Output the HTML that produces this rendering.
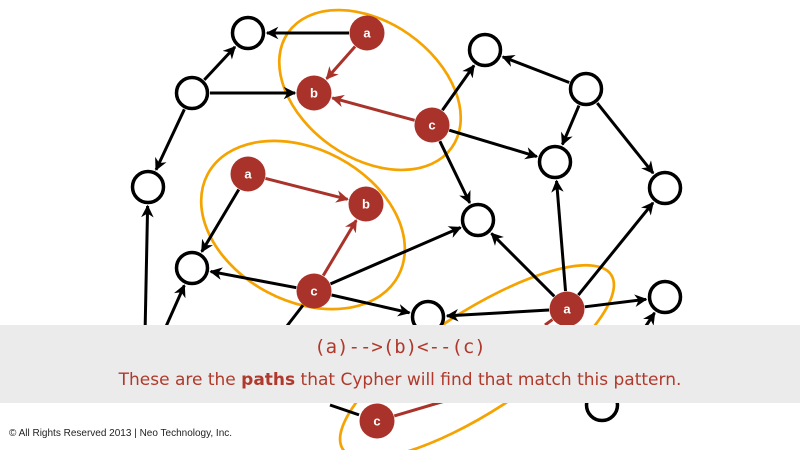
<!DOCTYPE html>
<html><head><meta charset="utf-8"><style>
html,body{margin:0;padding:0;background:#fff;}
body{width:800px;height:450px;overflow:hidden;position:relative;font-family:"Liberation Sans",sans-serif;}
svg{position:absolute;left:0;top:0;}
.bar{position:absolute;left:0;top:325px;width:800px;height:78px;background:#ebebeb;}
.l1{position:absolute;left:0;width:800px;top:335px;line-height:24px;text-align:center;color:#b0392b;font-family:"DejaVu Sans Mono","Liberation Mono",monospace;font-size:19px;}
.l2{position:absolute;left:0;width:800px;top:369px;line-height:22px;text-align:center;color:#b0392b;font-family:"DejaVu Sans","Liberation Sans",sans-serif;font-size:17px;}
.foot{position:absolute;left:9px;top:427px;line-height:14px;font-size:10px;color:#222;}
</style></head><body>
<svg id="g" width="800" height="450" viewBox="0 0 800 450" xmlns="http://www.w3.org/2000/svg">
<defs>
<marker id="ab" viewBox="0 0 10 10" refX="9" refY="5" markerWidth="4.2" markerHeight="4.2" orient="auto" markerUnits="strokeWidth"><path d="M0,0 L10,5 L0,10 L3,5 z" fill="#000"/></marker>
<marker id="ar" viewBox="0 0 10 10" refX="9" refY="5" markerWidth="4.2" markerHeight="4.2" orient="auto" markerUnits="strokeWidth"><path d="M0,0 L10,5 L0,10 L3,5 z" fill="#a9332a"/></marker>
</defs>
<g id="ell" fill="none" stroke="#f5a300" stroke-width="2.7">
<ellipse cx="370" cy="90" rx="100" ry="68" transform="rotate(35 370 90)"/>
<ellipse cx="303" cy="225" rx="108" ry="76" transform="rotate(28 303 225)"/>
<ellipse cx="477" cy="362" rx="160" ry="50" transform="rotate(-33 477 362)"/>
</g>
<g id="edges"></g>
<g id="nodes"></g>
</svg>
<div class="bar"></div>
<div class="l1">(a)--&gt;(b)&lt;--(c)</div>
<div class="l2">These are the <b>paths</b> that Cypher will find that match this pattern.</div>
<div class="foot">© All Rights Reserved 2013 | Neo Technology, Inc.</div>
<script>
var N={W1:[248,33],W2:[192,93],W3:[148,187],W4:[192,268],W5:[485,50],W6:[586,89],W7:[555,162],W8:[665,188],W9:[478,220],W10:[428,317],W11:[665,297],W12:[602,405],
a1:[367,33],b1:[314,93],c1:[432,125],a2:[248,174],b2:[366,204],c2:[314,291],a3:[567,309],c3:[377,421],
X1:[145,335],X2:[160,340],X3:[280,335],X4:[330,405],X5:[640,335],X6:[455,398],X7:[545,325]};
var R=18;
var E=[["a1","W1"],["W2","W1"],["W2","b1"],["W2","W3"],["X1","W3"],["c1","W5"],["W6","W5"],["W6","W7"],["W6","W8"],["c1","W7"],["c1","W9"],
["a3","W9"],["a3","W7"],["a3","W8"],["a3","W11"],["a3","W10"],["X5","W11"],["c2","W4"],["c2","W9"],["c2","W10"],["a2","W4"],["X2","W4"],["c2","X3",1],["X4","c3",1]];
var RE=[["a1","b1"],["c1","b1"],["a2","b2"],["c2","b2"],["c3","X6",1],["a3","X7",1]];
var ns="http://www.w3.org/2000/svg",eg=document.getElementById("edges"),ng=document.getElementById("nodes");
function line(e,col,mk){var p=N[e[0]],q=N[e[1]];var dx=q[0]-p[0],dy=q[1]-p[1],d=Math.hypot(dx,dy);
var s0=e[0][0]=="X"?0:R,s1=(e[1][0]=="X")?0:R+1;
var l=document.createElementNS(ns,"line");l.setAttribute("x1",p[0]+dx/d*s0);l.setAttribute("y1",p[1]+dy/d*s0);
l.setAttribute("x2",q[0]-dx/d*s1);l.setAttribute("y2",q[1]-dy/d*s1);l.setAttribute("stroke",col);l.setAttribute("stroke-width",3);
if(!e[2])l.setAttribute("marker-end","url(#"+mk+")");eg.appendChild(l);}
E.forEach(function(e){line(e,"#000","ab")});RE.forEach(function(e){line(e,"#a9332a","ar")});
for(var k in N){if(k[0]=="X")continue;var p=N[k],c=document.createElementNS(ns,"circle");c.setAttribute("cx",p[0]);c.setAttribute("cy",p[1]);
if(k[0]=="W"){c.setAttribute("r",15.5);c.setAttribute("fill","#fff");c.setAttribute("stroke","#000");c.setAttribute("stroke-width",3.5);ng.appendChild(c);}
else{c.setAttribute("r",17.5);c.setAttribute("fill","#a9332a");ng.appendChild(c);var t=document.createElementNS(ns,"text");t.setAttribute("x",p[0]);t.setAttribute("y",p[1]+4.5);
t.setAttribute("text-anchor","middle");t.setAttribute("fill","#fff");t.setAttribute("font-size","13");t.setAttribute("font-weight","bold");t.setAttribute("font-family","Liberation Sans, sans-serif");t.textContent=k[0];ng.appendChild(t);}}
</script>
</body></html>
